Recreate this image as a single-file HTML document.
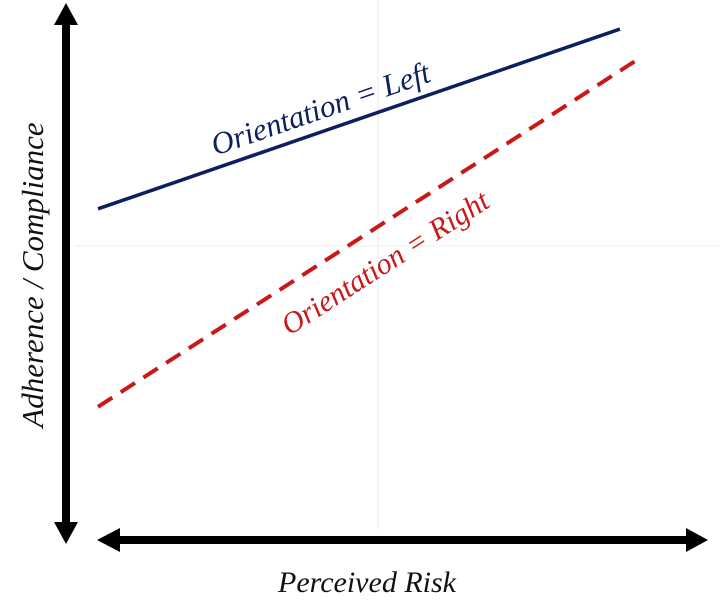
<!DOCTYPE html>
<html><head><meta charset="utf-8"><style>
html,body{margin:0;padding:0;background:#fff;width:720px;height:602px;overflow:hidden}
svg text{font-family:"Liberation Serif",serif;font-style:italic}
</style></head><body>
<svg id="chart" width="720" height="602" viewBox="0 0 720 602" xmlns="http://www.w3.org/2000/svg">
<line x1="378" y1="0" x2="378" y2="530" stroke="#eeeeee" stroke-width="1"/>
<line x1="75" y1="246" x2="720" y2="246" stroke="#eeeeee" stroke-width="1"/>
<g>
<rect x="62" y="22" width="8" height="500" fill="#000"/>
<polygon points="66,3 54,25 78,25" fill="#000"/>
<polygon points="66,544 54,522 78,522" fill="#000"/>
</g>
<g>
<rect x="118" y="536" width="570" height="8" fill="#000"/>
<polygon points="97,540 120,528 120,552" fill="#000"/>
<polygon points="708,540 686,528 686,552" fill="#000"/>
</g>
<text transform="translate(43,275) rotate(-90)" text-anchor="middle" font-size="31" fill="#111">Adherence / Compliance</text>
<text x="367" y="592" text-anchor="middle" font-size="30" fill="#111">Perceived Risk</text>
<g id="series"></g>
</svg>
<script>
const xValues = [0, 10];
const leftValues = [6.19, 9.55];
const leftX = [0, 9.72];
const rightValues = [2.49, 8.95];
const seriesNames = ["Orientation = Left", "Orientation = Right"];
function sx(v){return 98 + v*53.7;}
function sy(v){return 540 - v*53.5;}
const g = document.getElementById('series');
const NS = "http://www.w3.org/2000/svg";
function mk(t){return document.createElementNS(NS,t);}
const l1 = mk('line');


l1.setAttribute('x1', sx(leftX[0])); l1.setAttribute('y1', sy(leftValues[0]));
l1.setAttribute('x2', sx(leftX[1])); l1.setAttribute('y2', sy(leftValues[1]));
l1.setAttribute('stroke', '#0d1f5e'); l1.setAttribute('stroke-width', '3.5');
g.appendChild(l1);
const l2 = mk('line');


l2.setAttribute('x1', sx(xValues[0])); l2.setAttribute('y1', sy(rightValues[0]));
l2.setAttribute('x2', sx(xValues[1])); l2.setAttribute('y2', sy(rightValues[1]));
l2.setAttribute('stroke', '#c81818'); l2.setAttribute('stroke-width', '4');
l2.setAttribute('stroke-dasharray', '17 10');
g.appendChild(l2);
function label(name, text, color, x0,y0,x1,y1, t, off, fs){
  const X0=sx(x0),Y0=sy(y0),X1=sx(x1),Y1=sy(y1);
  const ang=Math.atan2(Y1-Y0,X1-X0)*180/Math.PI;
  const cx=X0+(X1-X0)*t, cy=Y0+(Y1-Y0)*t;
  const tx=mk('text');
  
  
  tx.setAttribute('transform', `translate(${cx},${cy}) rotate(${ang}) translate(0,${off})`);
  tx.setAttribute('text-anchor','middle');
  tx.setAttribute('font-size',fs);
  tx.setAttribute('fill',color);
  tx.textContent=text;
  g.appendChild(tx);
}
label('label-orientation-left', seriesNames[0], '#0d1f5e', leftX[0],leftValues[0],leftX[1],leftValues[1], 0.44, -12, 31);
label('label-orientation-right', seriesNames[1], '#c81818', xValues[0],rightValues[0],xValues[1],rightValues[1], 0.5, 44, 30);
</script>
</body></html>
